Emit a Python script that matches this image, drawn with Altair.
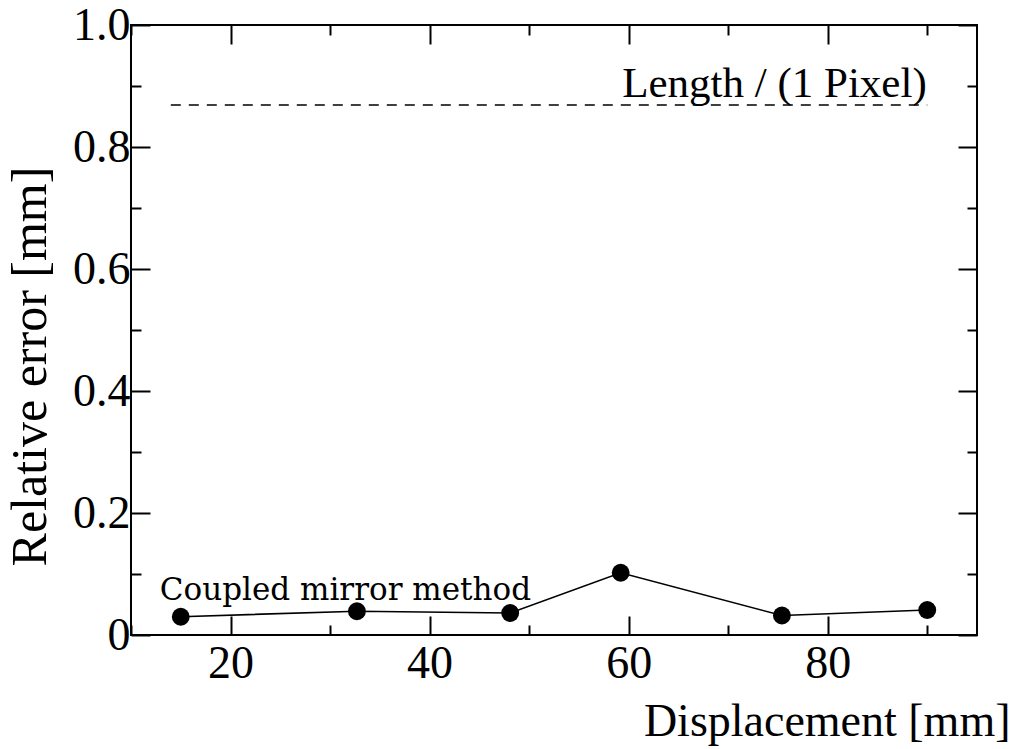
import altair as alt
import pandas as pd

# Data
displacement = [15.0, 32.7, 48.1, 59.2, 75.4, 90.0]
rel_error = [0.030, 0.039, 0.036, 0.102, 0.032, 0.041]

pixel_x = [14.0, 90.0]
pixel_y = [0.869, 0.869]

x_major = [20, 40, 60, 80]
x_minor = [10, 30, 50, 70, 90]
y_major = [0.0, 0.2, 0.4, 0.6, 0.8, 1.0]
y_minor = [0.1, 0.3, 0.5, 0.7, 0.9]

label_text = ["Coupled mirror method", "Length / (1 Pixel)"]
label_x = [12.9, 59.35]
label_y = [0.057, 0.882]

W, H = 846, 610
SERIF = "Liberation Serif"
SERIF2 = "DejaVu Serif"

df = pd.DataFrame({"x": displacement, "y": rel_error})
df_pix = pd.DataFrame({"x": pixel_x, "y": pixel_y})

xs = alt.Scale(domain=[10, 95], nice=False, zero=False)
ys = alt.Scale(domain=[0, 1], nice=False, zero=False)

x_main_axis = alt.Axis(
    orient="bottom", values=x_major, ticks=False, domain=False, grid=False,
    labelFont=SERIF, labelFontSize=46, labelColor="black",
    labelBaseline="alphabetic", labelPadding=42,
    title="Displacement [mm]", titleFont=SERIF, titleFontSize=46,
    titleFontWeight="normal", titleColor="black",
    titleAlign="right", titleBaseline="alphabetic", titleX=879, titleY=100,
)
y_main_axis = alt.Axis(
    orient="left", values=y_major, ticks=False, domain=False, grid=False,
    labelFont=SERIF, labelFontSize=46, labelColor="black",
    labelExpr="datum.value == 0 ? '0' : format(datum.value, '.1f')",
    labelBaseline="middle", labelPadding=1,
    title="Relative error [mm]", titleFont=SERIF, titleFontSize=50,
    titleFontWeight="normal", titleColor="black",
    titleAlign="center", titleBaseline="alphabetic", titleAngle=270,
    titleX=-86, titleY=341,
)

line = alt.Chart(df).mark_line(color="black", strokeWidth=1.6).encode(
    x=alt.X("x:Q", scale=xs, axis=x_main_axis),
    y=alt.Y("y:Q", scale=ys, axis=y_main_axis),
)
pts = alt.Chart(df).mark_point(filled=True, color="black", size=320, opacity=1).encode(
    x=alt.X("x:Q", scale=xs, axis=None),
    y=alt.Y("y:Q", scale=ys, axis=None),
)
dash = alt.Chart(df_pix).mark_line(color="black", strokeWidth=1.5, strokeDash=[10, 8]).encode(
    x=alt.X("x:Q", scale=xs, axis=None),
    y=alt.Y("y:Q", scale=ys, axis=None),
)

df_lab = pd.DataFrame({"t": label_text, "x": label_x, "y": label_y})
lab1 = alt.Chart(df_lab.iloc[[0]]).mark_text(
    font=SERIF2, fontSize=31, align="left", baseline="alphabetic", color="black"
).encode(x=alt.X("x:Q", scale=xs, axis=None), y=alt.Y("y:Q", scale=ys, axis=None), text="t:N")
lab2 = alt.Chart(df_lab.iloc[[1]]).mark_text(
    font=SERIF, fontSize=43, align="left", baseline="alphabetic", color="black"
).encode(x=alt.X("x:Q", scale=xs, axis=None), y=alt.Y("y:Q", scale=ys, axis=None), text="t:N")


def tick_layer(x_orient, y_orient, xvals, yvals, size):
    common = dict(labels=False, domain=False, grid=False, title=None,
                  tickColor="black", tickWidth=2, tickSize=size)
    return alt.Chart(df).mark_point(opacity=0).encode(
        x=alt.X("x:Q", scale=xs, axis=alt.Axis(orient=x_orient, offset=-H, values=xvals, **common)),
        y=alt.Y("y:Q", scale=ys, axis=alt.Axis(orient=y_orient, offset=-W, values=yvals, **common)),
    )

t1 = tick_layer("top", "right", x_major, y_major, 19)
t2 = tick_layer("top", "right", x_minor, y_minor, 10)
t3 = tick_layer("bottom", "left", x_major, y_major, 19)
t4 = tick_layer("bottom", "left", x_minor, y_minor, 10)

chart = alt.layer(line, dash, pts, lab1, lab2, t1, t2, t3, t4).resolve_axis(
    x="independent", y="independent"
).properties(
    width=W, height=H,
    autosize=alt.AutoSizeParams(type="none"),
    padding={"left": 131, "top": 25, "right": 46, "bottom": 114},
    background="white",
).configure_view(stroke="black", strokeWidth=2)

chart.save("out.html", embed_options={"renderer": "svg", "actions": False})
